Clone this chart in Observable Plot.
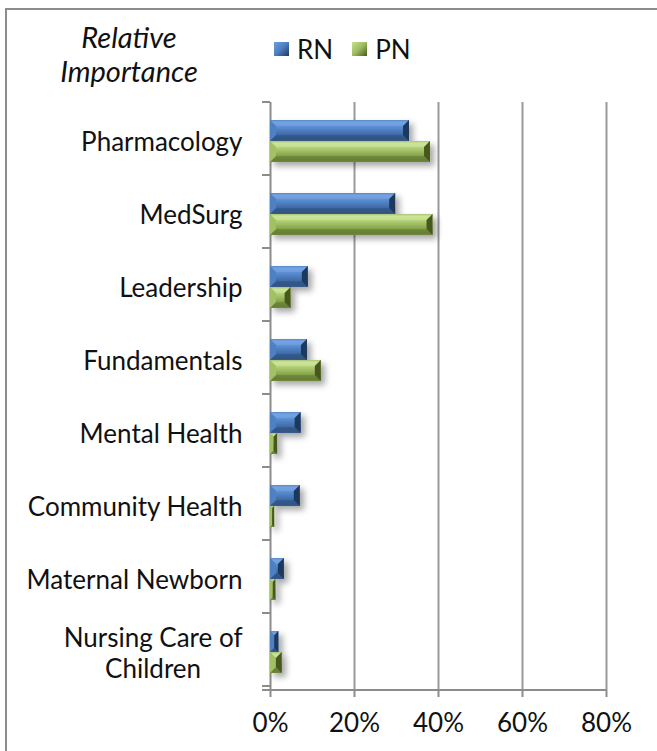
<!DOCTYPE html>
<html><head><meta charset="utf-8">
<script src="https://cdn.jsdelivr.net/npm/d3@7"></script>
<script src="https://cdn.jsdelivr.net/npm/@observablehq/plot@0.6"></script>
<style>
html,body{margin:0;padding:0;background:#fff;overflow:hidden}
#wrap{position:relative;width:657px;height:751px;font-family:Lato,"Open Sans",sans-serif;color:#111}
#border{position:absolute;left:5px;top:8px;width:720px;height:800px;border-left:2px solid #8c8c8c;border-top:2px solid #8c8c8c;box-sizing:border-box}
#chart{position:absolute;left:0;top:0}
#title{position:absolute;left:29px;width:200px;top:20px;text-align:center;font-style:italic;font-size:29px;line-height:34px}
#legend{position:absolute;left:274px;top:33px;font-size:26px;line-height:32px;display:flex;align-items:center}
.sw{display:inline-block;width:15px;height:14px;margin-right:8px}
.item{display:flex;align-items:center;margin-right:19px}
</style></head>
<body>
<div id="wrap">
  <div id="border"></div>
  <div id="chart"></div>
  <div id="title">Relative<br>Importance</div>
  <div id="legend"></div>
</div>
<script>
const categories = ["Pharmacology","MedSurg","Leadership","Fundamentals","Mental Health","Community Health","Maternal Newborn","Nursing Care of Children"];
const tickLabels = ["Pharmacology","MedSurg","Leadership","Fundamentals","Mental Health","Community Health","Maternal Newborn","Nursing Care of\nChildren"];
const seriesNames = ["RN","PN"];
const rnValues = [0.331, 0.298, 0.090, 0.088, 0.073, 0.071, 0.033, 0.020];
const pnValues = [0.381, 0.387, 0.049, 0.121, 0.017, 0.010, 0.013, 0.028];
const xTicks = [0, 0.2, 0.4, 0.6, 0.8];

const rnData = categories.map((c,i)=>({category:c, value:rnValues[i]}));
const pnData = categories.map((c,i)=>({category:c, value:pnValues[i]}));
const labelOf = new Map(categories.map((c,i)=>[c, tickLabels[i]]));

const chart = Plot.plot({
  width: 657, height: 751,
  marginTop: 102, marginBottom: 61, marginLeft: 270, marginRight: 51,
  style: {fontFamily: "Lato, 'Open Sans', sans-serif", color: "#111", background: "transparent", overflow: "visible"},
  x: {domain: [0, 0.8]},
  y: {domain: categories, paddingInner: 0.43, paddingOuter: 0.215},
  marks: [
    Plot.gridX(xTicks.slice(1), {stroke: "#9a9a9a", strokeOpacity: 1, strokeWidth: 2}),
    Plot.ruleX([0], {stroke: "#8c8c8c", strokeWidth: 2}),
    Plot.barX(rnData, {y: "category", x: "value", fill: "url(#rnG)", insetBottom: 21}),
    Plot.barX(pnData, {y: "category", x: "value", fill: "url(#pnG)", insetTop: 21}),
    Plot.axisX(xTicks, {tickFormat: d3.format(".0%"), tickSize: 7, tickPadding: 16, fontSize: 26, stroke: "#8c8c8c", strokeWidth: 2, fill: "#111", label: null}),
    Plot.axisY({tickSize: 0, tickPadding: 28, fontSize: 26, lineHeight: 1.2, fill: "#111", tickFormat: d => labelOf.get(d), label: null})
  ]
});
document.getElementById("chart").appendChild(chart);

const svg = d3.select(chart);
const defs = svg.insert("defs", ":first-child");
function grad(id, stops){
  const g = defs.append("linearGradient").attr("id", id).attr("x1",0).attr("y1",0).attr("x2",0).attr("y2",1);
  stops.forEach(([o,c]) => g.append("stop").attr("offset", o).attr("stop-color", c));
}
grad("rnG", [[0,"#3d679f"],[0.1,"#6f9fe0"],[0.3,"#5d90d4"],[0.5,"#4c7dbf"],[0.72,"#3e69a3"],[0.9,"#33578a"],[1,"#44699d"]]);
grad("pnG", [[0,"#7f9b46"],[0.1,"#c8e191"],[0.3,"#b4d27b"],[0.5,"#9dbb5e"],[0.72,"#84a04a"],[0.9,"#6d863a"],[1,"#819b4b"]]);
const f = defs.append("filter").attr("id","sh").attr("x","-30%").attr("y","-60%").attr("width","170%").attr("height","260%");
f.append("feDropShadow").attr("dx",4).attr("dy",4).attr("stdDeviation",3).attr("flood-color","#000").attr("flood-opacity",0.35);

function bevel(fillId, cols){
  const g = svg.selectAll(`g[fill='url(#${fillId})']`);
  g.attr("filter","url(#sh)");
  g.selectAll("rect").each(function(){
    const r = d3.select(this);
    const x = +r.attr("x"), y = +r.attr("y"), w = +r.attr("width"), h = +r.attr("height");
    const d = Math.min(6, h/2, w/2);
    const parent = d3.select(this.parentNode);
    parent.append("polygon").attr("points", [[x,y],[x+w,y],[x+w-d,y+d],[x+d,y+d]].join(" ")).attr("fill", cols.top).attr("opacity", 0.5);
    parent.append("polygon").attr("points", [[x,y+h],[x+w,y+h],[x+w-d,y+h-d],[x+d,y+h-d]].join(" ")).attr("fill", cols.bottom).attr("opacity", 0.5);
    parent.append("polygon").attr("points", [[x,y],[x+d,y+d],[x+d,y+h-d],[x,y+h]].join(" ")).attr("fill", cols.left);
    parent.append("polygon").attr("points", [[x+w,y],[x+w-d,y+d],[x+w-d,y+h-d],[x+w,y+h]].join(" ")).attr("fill", cols.right);
  });
}
bevel("rnG", {top:"#7aa8e6", bottom:"#2d4f7e", left:"#4f80c2", right:"#1e395c"});
bevel("pnG", {top:"#d2e8a0", bottom:"#5e7630", left:"#a2c066", right:"#46591f"});

// Category boundary ticks and bottom axis line, from the y and x scales
const ys = chart.scale("y"), xs = chart.scale("x");
const x0 = xs.apply(0), xEnd = xs.apply(0.8);
const step = ys.step, start = ys.range[0];
const ag = svg.append("g").attr("stroke", "#8c8c8c").attr("stroke-width", 2);
for (let k = 0; k <= categories.length; k++) {
  const yy = start + k * step;
  ag.append("line").attr("x1", x0 - 8).attr("x2", x0).attr("y1", yy).attr("y2", yy);
}
const yb = ys.range[1];
ag.append("line").attr("x1", x0 - 8).attr("x2", xEnd).attr("y1", yb).attr("y2", yb);

// Center the lines of the two-line label
svg.selectAll("text").each(function(){
  const t = d3.select(this);
  const sp = t.selectAll("tspan");
  if (sp.size() > 1) {
    const b = this.getBBox();
    const cx = b.x + b.width/2;
    t.attr("text-anchor","middle");
    sp.attr("x", cx);
  }
});

// Legend
const legend = d3.select("#legend");
const swatch = {RN:"linear-gradient(135deg,#6f9fe0,#4c7dbf 50%,#1e395c)", PN:"linear-gradient(135deg,#c8e191,#9dbb5e 50%,#46591f)"};
seriesNames.forEach(s => {
  const it = legend.append("div").attr("class","item");
  it.append("span").attr("class","sw").style("background", swatch[s]);
  it.append("span").text(s);
});
</script>
</body></html>
